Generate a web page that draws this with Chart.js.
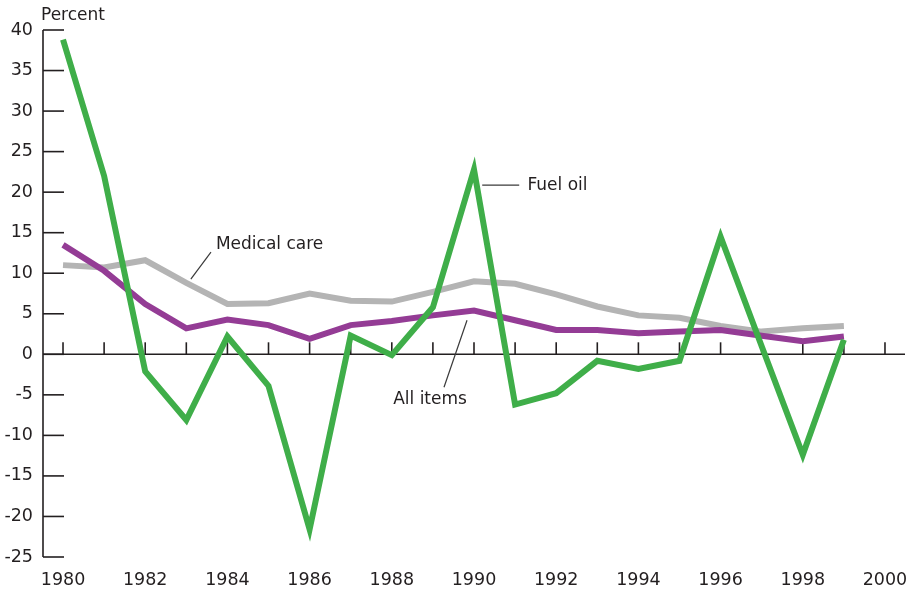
<!DOCTYPE html>
<html>
<head>
<meta charset="utf-8">
<script src="https://cdn.jsdelivr.net/npm/chart.js@4"></script>
<style>
  html, body { margin: 0; padding: 0; background: #ffffff; }
  canvas { display: block; }
</style>
</head>
<body>
<canvas id="c" width="915" height="595"></canvas>
<script>
const years = [1980,1981,1982,1983,1984,1985,1986,1987,1988,1989,1990,1991,1992,1993,1994,1995,1996,1997,1998,1999];
const fuelOil = [38.8,22.0,-2.1,-8.1,2.2,-3.9,-21.6,2.3,-0.1,5.8,22.8,-6.2,-4.8,-0.8,-1.8,-0.8,14.5,1.0,-12.4,1.8];
const allItems = [13.5,10.3,6.2,3.2,4.3,3.6,1.9,3.6,4.1,4.8,5.4,4.2,3.0,3.0,2.6,2.8,3.0,2.3,1.6,2.2];
const medicalCare = [11.0,10.7,11.6,8.8,6.2,6.3,7.5,6.6,6.5,7.7,9.0,8.7,7.4,5.9,4.8,4.5,3.5,2.8,3.2,3.5];
const xTickLabels = [1980,1982,1984,1986,1988,1990,1992,1994,1996,1998,2000];
const yTickLabels = [-25,-20,-15,-10,-5,0,5,10,15,20,25,30,35,40];
const seriesNames = ['Fuel oil','All items','Medical care'];

const FONT = '"DejaVu Sans", sans-serif';
const INK = '#231f20';

const toPts = arr => arr.map((v, i) => ({x: years[i], y: v}));

const axesPlugin = {
  id: 'customAxes',
  beforeDatasetsDraw(chart) {
    const ctx = chart.ctx;
    const xs = chart.scales.x, ys = chart.scales.y;
    const left = chart.chartArea.left, right = chart.chartArea.right;
    const y0 = ys.getPixelForValue(0);
    ctx.save();
    ctx.strokeStyle = INK;
    ctx.lineWidth = 1.6;
    ctx.lineCap = 'butt';
    ctx.beginPath();
    ctx.moveTo(left, ys.getPixelForValue(40));
    ctx.lineTo(left, ys.getPixelForValue(-25));
    ctx.stroke();
    yTickLabels.forEach(v => {
      const p = ys.getPixelForValue(v);
      ctx.beginPath();
      ctx.moveTo(left, p);
      ctx.lineTo(left + 21, p);
      ctx.stroke();
    });
    ctx.beginPath();
    ctx.moveTo(left, y0);
    ctx.lineTo(right, y0);
    ctx.stroke();
    for (let yr = 1980; yr <= 2000; yr++) {
      const p = xs.getPixelForValue(yr);
      ctx.beginPath();
      ctx.moveTo(p, y0);
      ctx.lineTo(p, y0 - 12);
      ctx.stroke();
    }
    ctx.restore();
  },
  afterDatasetsDraw(chart) {
    const ctx = chart.ctx;
    const xs = chart.scales.x, ys = chart.scales.y;
    const X = v => xs.getPixelForValue(v), Y = v => ys.getPixelForValue(v);
    ctx.save();
    ctx.fillStyle = INK;
    ctx.strokeStyle = '#3a3a3a';
    ctx.lineWidth = 1.2;
    ctx.font = '17px ' + FONT;
    ctx.textBaseline = 'middle';
    ctx.textAlign = 'left';
    ctx.fillText('Percent', chart.chartArea.left - 2, 16);
    ctx.beginPath();
    ctx.moveTo(X(1990.2), Y(20.86));
    ctx.lineTo(X(1991.1), Y(20.86));
    ctx.stroke();
    ctx.fillText(seriesNames[0], X(1991.3), Y(20.86));
    ctx.beginPath();
    ctx.moveTo(X(1983.11), Y(9.26));
    ctx.lineTo(X(1983.6), Y(12.59));
    ctx.stroke();
    ctx.fillText(seriesNames[2], X(1983.72), Y(13.58));
    ctx.beginPath();
    ctx.moveTo(X(1989.83), Y(4.2));
    ctx.lineTo(X(1989.27), Y(-4.07));
    ctx.stroke();
    ctx.textAlign = 'center';
    ctx.fillText(seriesNames[1], X(1988.93), Y(-5.56));
    ctx.restore();
  }
};

const lineStyle = {
  borderWidth: 6,
  pointRadius: 0,
  pointHoverRadius: 0,
  tension: 0,
  borderJoinStyle: 'miter',
  borderCapStyle: 'butt',
  fill: false
};

new Chart(document.getElementById('c'), {
  type: 'line',
  data: {
    datasets: [
      Object.assign({label: seriesNames[0], data: toPts(fuelOil), borderColor: '#3fae49'}, lineStyle),
      Object.assign({label: seriesNames[1], data: toPts(allItems), borderColor: '#943c95'}, lineStyle),
      Object.assign({label: seriesNames[2], data: toPts(medicalCare), borderColor: '#b4b4b4'}, lineStyle)
    ]
  },
  options: {
    responsive: false,
    devicePixelRatio: 1,
    animation: false,
    events: [],
    layout: { padding: { top: 30, right: 10, left: 0, bottom: 0 } },
    plugins: { legend: { display: false }, tooltip: { enabled: false } },
    scales: {
      x: {
        type: 'linear',
        min: 1979.513,
        max: 2000.487,
        border: { display: false },
        grid: { display: false, drawTicks: false },
        afterBuildTicks: s => { s.ticks = xTickLabels.map(v => ({value: v})); },
        afterFit: s => { s.height = 38; s.paddingRight = 0; s.paddingLeft = 0; },
        ticks: {
          padding: 13,
          color: INK,
          font: { family: FONT, size: 17.5 },
          maxRotation: 0,
          autoSkip: false,
          callback: v => String(v)
        }
      },
      y: {
        type: 'linear',
        min: -25,
        max: 40,
        border: { display: false },
        grid: { display: false, drawTicks: false },
        afterBuildTicks: s => { s.ticks = yTickLabels.map(v => ({value: v})); },
        afterFit: s => { s.width = 43; },
        ticks: {
          padding: 10,
          color: INK,
          font: { family: FONT, size: 17.5 },
          autoSkip: false,
          callback: v => String(v)
        }
      }
    }
  },
  plugins: [axesPlugin]
});
</script>
</body>
</html>
